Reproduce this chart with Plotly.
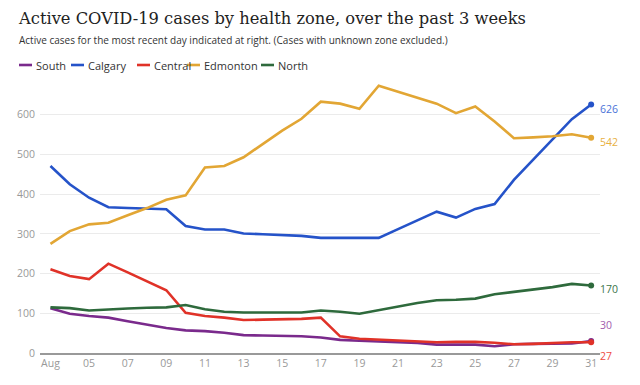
import plotly.graph_objects as go

days = list(range(3, 32))
dates = [f"2020-08-{d:02d}" for d in days]

south = [113, 99, 93, 89, 80, 71, 63, 57, 55, 51, 45, 44, 43, 42, 39, 33, 31, 29, 27, 25, 21, 21, 21, 17, 22, 23, 24, 24, 30]
calgary = [471, 425, 391, 367, 365, 364, 362, 320, 311, 311, 301, 299, 297, 295, 290, 290, 290, 290, 312, 334, 356, 341, 363, 375, 436, 487, 538, 589, 626]
central = [211, 194, 186, 225, 203, 180, 158, 101, 93, 89, 83, 84, 85, 86, 89, 42, 36, 34, 32, 30, 27, 28, 28, 26, 22, 23, 25, 27, 27]
edmonton = [275, 307, 324, 328, 347, 365, 386, 397, 467, 471, 493, 527, 560, 590, 633, 628, 615, 673, 658, 643, 628, 604, 621, 583, 541, 543, 546, 551, 542]
north = [115, 113, 107, 110, 112, 114, 115, 121, 110, 104, 102, 102, 102, 102, 107, 104, 99, 108, 118, 126, 133, 134, 137, 148, 154, 160, 166, 174, 170]

names = ["South", "Calgary", "Central", "Edmonton", "North"]
series = [south, calgary, central, edmonton, north]
colors = ["#7a2a8c", "#2553c9", "#e03228", "#e2a634", "#2e6a3c"]
label_colors = ["#a25cad", "#4a72d8", "#ee4b3f", "#e8b040", "#3c7449"]
label_shift = [16, -5, -14, -4, -3]  # pixel offsets to avoid overlap

tick_vals = dates[::2]
tick_text = ["Aug"] + [f"{d:02d}" for d in days[::2]][1:]

fig = go.Figure()
for name, vals, c in zip(names, series, colors):
    fig.add_trace(go.Scatter(x=dates, y=vals, mode="lines", name=name,
                             line=dict(color=c, width=2.6), showlegend=False,
                             hoverinfo="x+y"))
    fig.add_trace(go.Scatter(x=[dates[-1]], y=[vals[-1]], mode="markers",
                             marker=dict(color=c, size=6), showlegend=False,
                             hoverinfo="skip"))

# page has 8px body margin; figure coords = page coords - 8
OFF = 8
W, H = 624, 369
L, R, T, B = 32, 32, 75, 24
pw = W - L - R
ph = H - T - B

def px(x):
    return (x - OFF - L) / pw

def py(y):
    return 1 + (T - (y - OFF)) / ph

annotations = []
for name, vals, lc, s in zip(names, series, label_colors, label_shift):
    annotations.append(dict(x=dates[-1], y=vals[-1], xref="x", yref="y",
                            text=str(vals[-1]), showarrow=False, xanchor="left",
                            xshift=7, yshift=s,
                            font=dict(family="Open Sans", size=10.5, color=lc)))
# manual legend
leg_x = [19, 71, 137, 187, 261]
shapes = []
for name, c, lx in zip(names, colors, leg_x):
    shapes.append(dict(type="line", xref="paper", yref="paper",
                       x0=px(lx), x1=px(lx + 13), y0=py(65), y1=py(65),
                       line=dict(color=c, width=2.6)))
    annotations.append(dict(xref="paper", yref="paper", x=px(lx + 15),
                            y=py(65), text=name,
                            showarrow=False, xanchor="left", yanchor="middle",
                            font=dict(family="Open Sans", size=11, color="#333")))
annotations.append(dict(xref="paper", yref="paper", x=px(17), y=py(40),
                        text="Active cases for the most recent day indicated at right. (Cases with unknown zone excluded.)",
                        showarrow=False, xanchor="left", yanchor="middle",
                        font=dict(family="Open Sans", size=10, color="#333")))
annotations.append(dict(xref="paper", yref="paper", x=px(17), y=py(8),
                        text="Active COVID-19 cases by health zone, over the past 3 weeks",
                        showarrow=False, xanchor="left", yanchor="top", borderpad=0,
                        font=dict(family="DejaVu Serif", size=16.3, color="#222")))

fig.update_layout(
    width=W, height=H, margin=dict(l=L, r=R, t=T, b=B, autoexpand=False),
    plot_bgcolor="white", paper_bgcolor="white",
    annotations=annotations, shapes=shapes,
    xaxis=dict(range=["2020-08-02 11:00", "2020-08-31 11:00"], tickvals=tick_vals,
               ticktext=tick_text, showgrid=False, showline=True, linecolor="#999",
               linewidth=1.5, ticks="", zeroline=False, automargin=False,
               tickfont=dict(family="Open Sans", size=10.5, color="#999")),
    yaxis=dict(range=[0, 680], tickvals=[0, 100, 200, 300, 400, 500, 600],
               showgrid=True, gridcolor="#ebebeb", gridwidth=1, zeroline=False,
               showline=False, ticks="", ticklabelstandoff=4, automargin=False,
               tickfont=dict(family="Open Sans", size=10.5, color="#999")),
)
fig.write_html("out.html")
